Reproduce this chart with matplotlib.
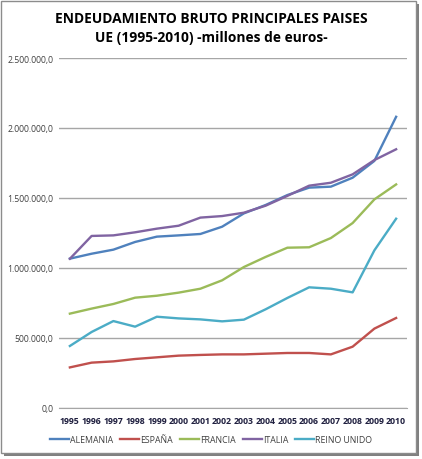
import matplotlib.pyplot as plt
from matplotlib.patches import Rectangle
from matplotlib.ticker import FuncFormatter

years = ['1995', '1996', '1997', '1998', '1999', '2000', '2001', '2002',
         '2003', '2004', '2005', '2006', '2007', '2008', '2009', '2010']
alemania = [1066700, 1102000, 1131000, 1186000, 1224000, 1233000, 1243000, 1295000,
            1390000, 1450000, 1521000, 1574000, 1581000, 1645000, 1765000, 2080000]
espana = [290000, 324000, 333000, 350000, 362000, 374000, 379000, 383000,
          383000, 388000, 393000, 393000, 383000, 438000, 567000, 643000]
francia = [674000, 710000, 743000, 788000, 802000, 824000, 852000, 912000,
           1007000, 1079000, 1145000, 1148000, 1214000, 1321000, 1490000, 1597000]
italia = [1066000, 1229000, 1233000, 1255000, 1281000, 1302000, 1360000, 1371000,
          1395000, 1445000, 1515000, 1588000, 1609000, 1669000, 1771000, 1848000]
reino_unido = [443000, 543000, 621000, 581000, 652000, 640000, 633000, 619000,
               631000, 705000, 786000, 862000, 852000, 826000, 1126000, 1352000]
series = [('ALEMANIA', alemania, '#4F81BD'), ('ESPAÑA', espana, '#C0504D'),
          ('FRANCIA', francia, '#9BBB59'), ('ITALIA', italia, '#8064A2'),
          ('REINO UNIDO', reino_unido, '#4BACC6')]

plt.rcParams['font.family'] = ['Open Sans', 'DejaVu Sans']
fig = plt.figure(figsize=(4.22, 4.6), dpi=100)

# marco con sombra
fig.patches.append(Rectangle((4 / 422, 3 / 460), 415 / 422, 452 / 460, transform=fig.transFigure,
                             facecolor='#808080', edgecolor='none', zorder=-2))
fig.patches.append(Rectangle((1 / 422, 6 / 460), 415 / 422, 452 / 460, transform=fig.transFigure,
                             facecolor='white', edgecolor='#8c8c8c', linewidth=1, zorder=-1))

ax = fig.add_axes([59 / 422, 1 - 409 / 460, 348 / 422, 350 / 460])
ax.set_facecolor('none')
x = range(len(years))
for name, vals, col in series:
    ax.plot(x, vals, color=col, linewidth=1.7, label=name)

ax.set_xlim(-0.5, len(years) - 0.5)
ax.set_ylim(0, 2500000)
ax.set_yticks(range(0, 2500001, 500000))
ax.yaxis.set_major_formatter(FuncFormatter(
    lambda v, p: '{:,.1f}'.format(v).replace(',', 'X').replace('.', ',').replace('X', '.')))
ax.set_xticks(list(x))
ax.set_xticklabels(years, fontweight='bold')
ax.grid(axis='y', color='#a6a6a6', linewidth=1)
ax.set_axisbelow(True)
for s in ['top', 'right', 'left']:
    ax.spines[s].set_visible(False)
ax.spines['bottom'].set_color('#a6a6a6')
ax.tick_params(axis='y', length=0, pad=4, labelsize=6.2, labelcolor='#404040')
ax.tick_params(axis='x', length=0, pad=6, labelsize=6.3, labelcolor='#1f1f3f')

fig.text(0.5, 1 - 19 / 460, 'ENDEUDAMIENTO BRUTO PRINCIPALES PAISES', ha='center', va='center',
         fontsize=9.9, fontweight='bold', color='black')
fig.text(0.5, 1 - 38 / 460, 'UE (1995-2010) -millones de euros-', ha='center', va='center',
         fontsize=9.9, fontweight='bold', color='black')

fig.legend(loc='center', bbox_to_anchor=(0.5, 1 - 441 / 460), ncol=5, frameon=False,
           fontsize=6.3, handlelength=2.2, handletextpad=0.1, columnspacing=0.8,
           labelcolor='#404040')

fig.savefig('out.png', dpi=100)
